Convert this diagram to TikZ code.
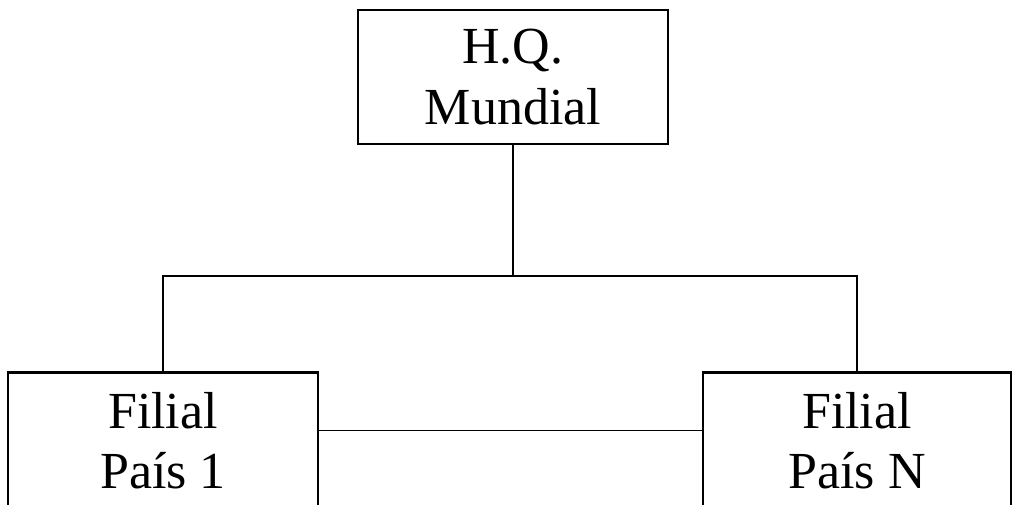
\documentclass[tikz,border=0pt]{standalone}
\usepackage{fontspec}
\setmainfont{Liberation Serif}
\usetikzlibrary{positioning}

\begin{document}
\begin{tikzpicture}[on grid,auto, box/.style = {draw,line width=2pt,fill=white,minimum width=7.75cm,minimum height=3.35cm,align=center,font=\fontsize{37}{43}\selectfont}]
        \clip (0,0) rectangle (25.325,-12.6);
        \node[box] (hq) at (12.825,-1.925) {H.Q.\\Mundial};
        \node[box,minimum height=3.4cm] (fil1) [below left=9.09cm and 8.75cm of hq] {Filial\\País 1};
        \node[box,minimum width=7.7cm,minimum height=3.4cm] (filN) [below right=9.09cm and 8.6cm of hq] {Filial\\País N};
        \coordinate (split) at (12.825,-6.9);

        \draw[line width=1.4pt] (hq.south) -- (split);
        \draw[line width=2pt] (fil1.north) |- (split) -| (filN.north);
        \draw[line width=0.8pt] ([yshift=0.26cm]fil1.east) -- ([yshift=0.26cm]filN.west);
    \end{tikzpicture}
\end{document}
